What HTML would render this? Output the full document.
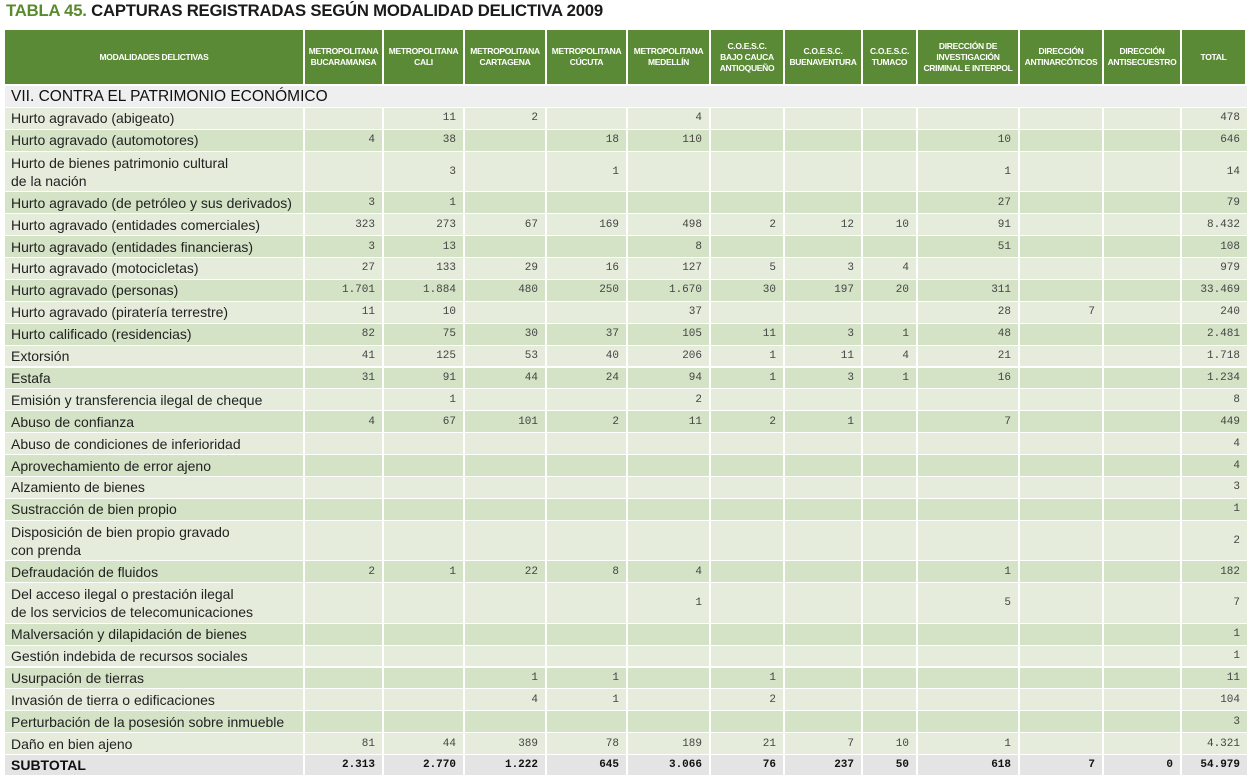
<!DOCTYPE html>
<html><head><meta charset="utf-8">
<style>
body{margin:0;background:#fff;width:1251px;height:780px;overflow:hidden;position:relative;font-family:"Liberation Sans",sans-serif;}
#title{position:absolute;left:6px;top:1px;font-size:16.7px;font-weight:bold;color:#1a1a1a;letter-spacing:-0.2px;white-space:nowrap}
#title span{color:#5a8a2e}
.cell{position:absolute;box-sizing:border-box;overflow:hidden}
.hd{background:#5b8a36;color:#fff;font-weight:bold;font-size:8.5px;text-align:center;display:flex;align-items:center;justify-content:center;line-height:11px;letter-spacing:-0.3px;border-right:2px solid #fff}
.lbl{font-family:"Liberation Sans",sans-serif;font-size:14px;color:#222;padding-left:6px;display:flex;align-items:center;line-height:18px;border-right:2px solid #fff;border-bottom:1px solid #fff;white-space:nowrap}
.num{font-family:"Liberation Mono",monospace;font-size:11px;color:#444;text-align:right;padding-right:7px;display:flex;align-items:center;justify-content:flex-end;border-right:2px solid #fff;border-bottom:1px solid #fff}
.sub{font-weight:bold;color:#111}
</style></head><body>
<div id="title"><span>TABLA 45.</span> CAPTURAS REGISTRADAS SEGÚN MODALIDAD DELICTIVA 2009</div>
<div id="tbl"></div>
<script>
const headers=["MODALIDADES DELICTIVAS","METROPOLITANA<br>BUCARAMANGA","METROPOLITANA<br>CALI","METROPOLITANA<br>CARTAGENA","METROPOLITANA<br>CÚCUTA","METROPOLITANA<br>MEDELLÍN","C.O.E.S.C.<br>BAJO CAUCA<br>ANTIOQUEÑO","C.O.E.S.C.<br>BUENAVENTURA","C.O.E.S.C.<br>TUMACO","DIRECCIÓN DE<br>INVESTIGACIÓN<br>CRIMINAL E INTERPOL","DIRECCIÓN<br>ANTINARCÓTICOS","DIRECCIÓN<br>ANTISECUESTRO","TOTAL"];
const labels=["Hurto agravado (abigeato)","Hurto agravado (automotores)","Hurto de bienes patrimonio cultural<br>de la nación","Hurto agravado (de petróleo y sus derivados)","Hurto agravado (entidades comerciales)","Hurto agravado (entidades financieras)","Hurto agravado (motocicletas)","Hurto agravado (personas)","Hurto agravado (piratería terrestre)","Hurto calificado (residencias)","Extorsión","Estafa","Emisión y transferencia ilegal de cheque","Abuso de confianza","Abuso de condiciones de inferioridad","Aprovechamiento de error ajeno","Alzamiento de bienes","Sustracción de bien propio","Disposición de bien propio gravado<br>con prenda","Defraudación de fluidos","Del acceso ilegal o prestación ilegal<br>de los servicios de telecomunicaciones","Malversación y dilapidación de bienes","Gestión indebida de recursos sociales","Usurpación de tierras","Invasión de tierra o edificaciones","Perturbación de la posesión sobre inmueble","Daño en bien ajeno"];
const kinds=[1,1,2,1,1,1,1,1,1,1,1,1,1,1,1,1,1,1,2,1,2,1,1,1,1,1,1];
const bucaramanga=["","4","","3","323","3","27","1.701","11","82","41","31","","4","","","","","","2","","","","","","","81"];
const cali=["11","38","3","1","273","13","133","1.884","10","75","125","91","1","67","","","","","","1","","","","","","","44"];
const cartagena=["2","","","","67","","29","480","","30","53","44","","101","","","","","","22","","","","1","4","","389"];
const cucuta=["","18","1","","169","","16","250","","37","40","24","","2","","","","","","8","","","","1","1","","78"];
const medellin=["4","110","","","498","8","127","1.670","37","105","206","94","2","11","","","","","","4","1","","","","","","189"];
const bajoCauca=["","","","","2","","5","30","","11","1","1","","2","","","","","","","","","","1","2","","21"];
const buenaventura=["","","","","12","","3","197","","3","11","3","","1","","","","","","","","","","","","","7"];
const tumaco=["","","","","10","","4","20","","1","4","1","","","","","","","","","","","","","","","10"];
const dijin=["","10","1","27","91","51","","311","28","48","21","16","","7","","","","","","1","5","","","","","","1"];
const antinarcoticos=["","","","","","","","","7","","","","","","","","","","","","","","","","","",""];
const antisecuestro=["","","","","","","","","","","","","","","","","","","","","","","","","","",""];
const totals=["478","646","14","79","8.432","108","979","33.469","240","2.481","1.718","1.234","8","449","4","4","3","1","2","182","7","1","1","11","104","3","4.321"];
const subtotal=["2.313","2.770","1.222","645","3.066","76","237","50","618","7","0","54.979"];
const cols=[bucaramanga,cali,cartagena,cucuta,medellin,bajoCauca,buenaventura,tumaco,dijin,antinarcoticos,antisecuestro,totals];

const xs=[5,305,384,465,547,628,711,785,863,918,1020,1104,1182,1247];
const tbl=document.getElementById('tbl');
function mk(cls,x,y,w,h,html,bg){const d=document.createElement('div');d.className='cell '+cls;d.style.left=x+'px';d.style.top=y+'px';d.style.width=w+'px';d.style.height=h+'px';if(bg)d.style.background=bg;d.innerHTML=html;tbl.appendChild(d);return d;}
for(let i=0;i<headers.length;i++){
  const d=mk('hd',xs[i],30,xs[i+1]-xs[i],54,headers[i]);
  
  
}
const sec=mk('lbl',5,86,1242,22,'VII. CONTRA EL PATRIMONIO ECONÓMICO','#efefef');


sec.style.fontSize='15.5px';sec.style.color='#111';sec.style.borderRight='none';
let y=108;
const H1=21.9,H2=40.5;
for(let r=0;r<labels.length;r++){
  const h=kinds[r]==2?H2:H1;
  const bg=r%2==0?'#e5ecdc':'#d4e2c6';
  const l=mk('lbl',xs[0],y,xs[1]-xs[0],h,labels[r],bg);
  
  
  for(let c=0;c<cols.length;c++){
    const n=mk('num',xs[c+1],y,xs[c+2]-xs[c+1],h,cols[c][r],bg);
    
    
    if(c==cols.length-1)n.style.borderRight='none';
  }
  y+=h;
}
const sl=mk('lbl',xs[0],y,xs[1]-xs[0],21,'SUBTOTAL','#e4e4e4');


sl.style.fontWeight='bold';sl.style.color='#111';
for(let c=0;c<subtotal.length;c++){
  const n=mk('num sub',xs[c+1],y,xs[c+2]-xs[c+1],21,subtotal[c],'#e4e4e4');
  
  
  if(c==subtotal.length-1)n.style.borderRight='none';
}
</script>
</body></html>
